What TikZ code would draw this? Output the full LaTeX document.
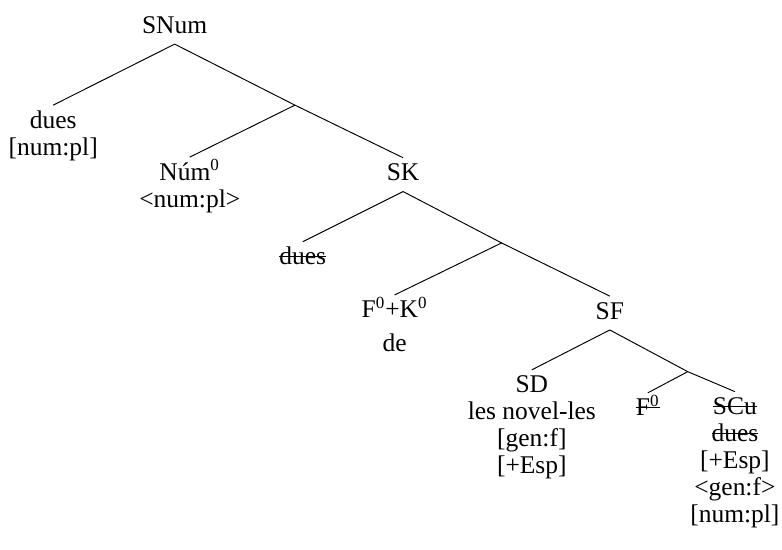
\documentclass[tikz,border=0pt]{standalone}
\usepackage{fontspec}
\setmainfont{Liberation Serif}
\usepackage{tikz}

% struck-through (deleted) copies
\newsavebox\delbox
\newcommand{\del}[1]{\sbox\delbox{#1}\rlap{\rule[0.3em]{\wd\delbox}{0.45pt}}\usebox\delbox}
% a centred stack of lines whose baseline is that of its first line
\newcommand{\stack}[1]{\begin{tabular}[t]{@{}c@{}}#1\end{tabular}}

\begin{document}
\begin{tikzpicture}[
  lbl/.style={anchor=base,inner sep=0pt,
    font=\fontsize{12}{12.7}\selectfont},
  branch/.style={line width=0.45pt}]
\useasboundingbox (0,0) rectangle (12.94,-9.10);

% ---- labels, each placed at the baseline of its first line -------------
\node[lbl] (snum)  at (2.89,-0.55)  {SNum};
\node[lbl] (dues)  at (0.88,-2.12)  {\stack{dues\\{}[num:pl]}};
\node[lbl] (num)   at (3.14,-2.98)  {\stack{Núm\textsuperscript{0}\\<num:pl>}};
\node[lbl] (sk)    at (6.67,-2.99)  {SK};
\node[lbl] (duesk) at (5.01,-4.38)  {\del{dues}};
\node[lbl] (fk)    at (6.53,-5.26)  {\stack{F\textsuperscript{0}+K\textsuperscript{0}\\[3pt]de}};
\node[lbl] (sf)    at (10.09,-5.28) {SF};
\node[lbl] (sd)    at (8.80,-6.50)  {\stack{SD\\les novel-les\\{}[gen:f]\\{}[+Esp]}};
\node[lbl] (f0)    at (10.72,-6.88) {\del{F\textsuperscript{0}}};
\node[lbl] (scu)   at (12.16,-6.86) {\stack{\del{SCu}\\\del{dues}\\{}[+Esp]\\<gen:f>\\{}[num:pl]}};

% ---- empty branching points --------------------------------------------
\coordinate (b1) at (4.88,-1.74);
\coordinate (b2) at (8.30,-4.02);
\coordinate (b3) at (11.38,-6.15);

% ---- branches ----------------------------------------------------------
\draw[branch] ([yshift=-0.18cm]snum.base) -- ([yshift=0.38cm]dues.base);
\draw[branch] ([yshift=-0.18cm]snum.base) -- (b1);
\draw[branch] (b1) -- ([yshift=0.38cm]num.base);
\draw[branch] (b1) -- ([yshift=0.38cm]sk.base);

\draw[branch] ([yshift=-0.18cm]sk.base) -- ([yshift=0.38cm]duesk.base);
\draw[branch] ([yshift=-0.18cm]sk.base) -- (b2);
\draw[branch] (b2) -- ([yshift=0.38cm]fk.base);
\draw[branch] (b2) -- ([yshift=0.38cm]sf.base);

\draw[branch] ([yshift=-0.18cm]sf.base) -- ([yshift=0.38cm]sd.base);
\draw[branch] ([yshift=-0.18cm]sf.base) -- (b3);
\draw[branch] (b3) -- ([yshift=0.38cm]f0.base);
\draw[branch] (b3) -- ([yshift=0.38cm]scu.base);
\end{tikzpicture}
\end{document}
